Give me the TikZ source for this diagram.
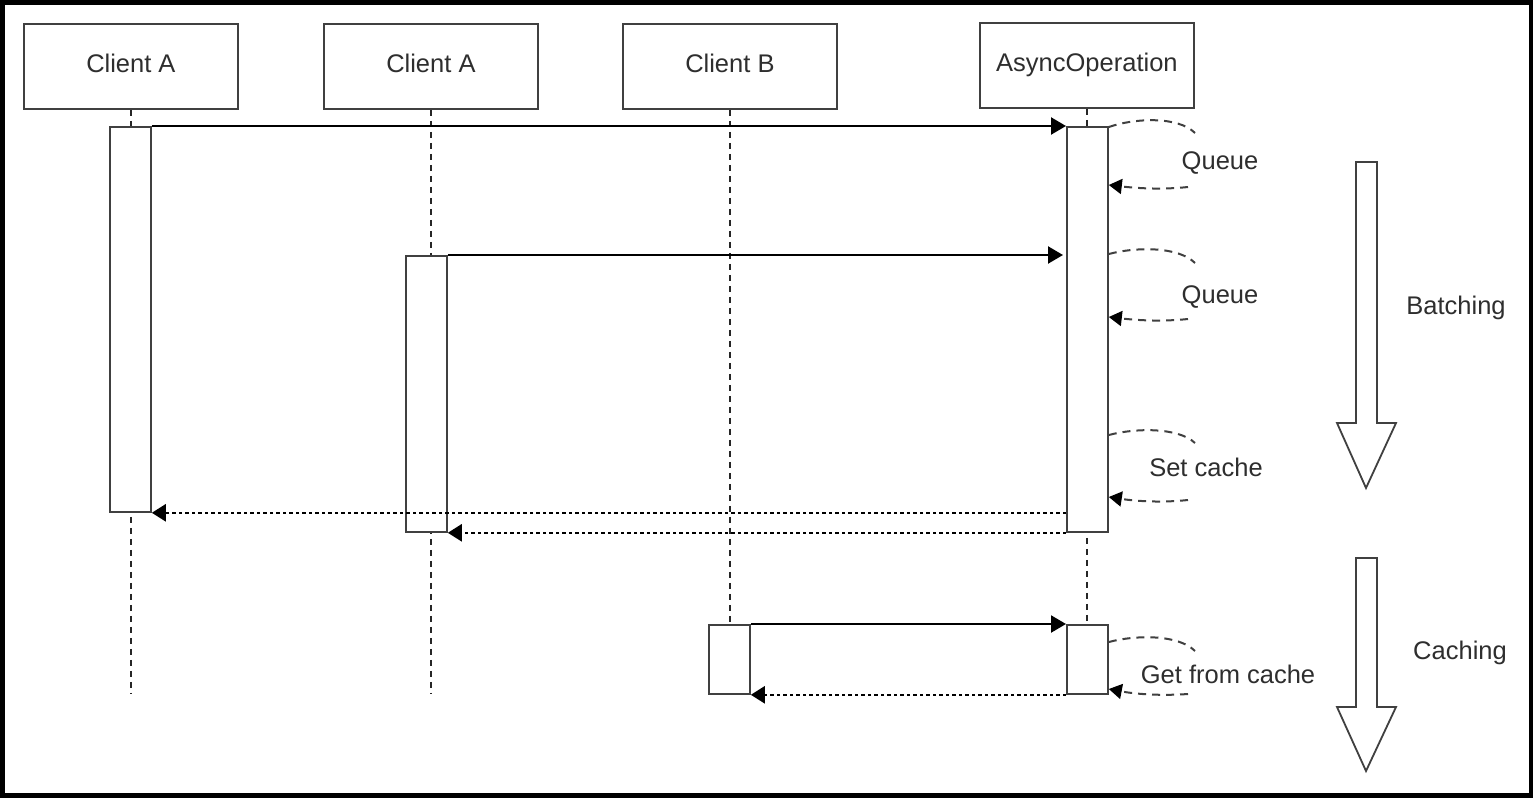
\documentclass[tikz,border=0pt]{standalone}
\usepackage{fontspec}
\setmainfont{Liberation Sans}
\usetikzlibrary{arrows.meta}
\definecolor{boxgray}{HTML}{404040}
\definecolor{txt}{HTML}{2E2E2E}
\begin{document}
\begin{tikzpicture}[x=1pt,y=-1pt,
  hdr/.style={draw=boxgray,line width=1.8pt,minimum width=214pt,minimum height=85pt,inner sep=0pt,anchor=north west,font=\fontsize{25.5}{30}\selectfont,text=txt,execute at begin node=\strut},
  act/.style={draw=boxgray,line width=1.8pt,fill=white,minimum width=41pt,inner sep=0pt,anchor=north west},
  msg/.style={line width=2.2pt,-{Triangle[length=15pt,width=17pt]}},
  ret/.style={line width=2.4pt,dash pattern=on 3.5pt off 3pt,-{Triangle[length=14pt,width=17pt]}},
  life/.style={line width=1.5pt,dash pattern=on 6pt off 5pt,black!85},
  loopd/.style={line width=2pt,dash pattern=on 8pt off 6pt,boxgray},
  looparr/.style={loopd,-{Triangle[length=13pt,width=15pt,color=black]}},
  lbl/.style={font=\fontsize{25.5}{30}\selectfont,text=txt,inner sep=0pt},
  bigarr/.style={draw=boxgray,line width=1.8pt,fill=white,line join=miter}
]
\useasboundingbox (0,0) rectangle (1536,798);
\fill[white] (0,0) rectangle (1536,798);
\draw[line width=4.5pt] (2.5,2.5) rectangle (1531,795.5);

% headers
\node[hdr] (h1) at (23,23) {Client A};
\node[hdr] (h2) at (323,23) {Client A};
\node[hdr] (h3) at (622,23) {Client B};
\node[hdr] (h4) at (979,22) {AsyncOperation};
\coordinate (bot) at (0,693);

% lifelines
\draw[life] (h1.south) -- (h1.south |- bot);
\draw[life] (h2.south) -- (h2.south |- bot);
\draw[life] (h3.south) -- (h3.south |- bot);
\draw[life] (h4.south) -- (h4.south |- bot);

% activations
\node[act,minimum height=385pt] (a1) at (109,126) {};
\node[act,minimum height=276pt] (a2) at (405,255) {};
\node[act,minimum height=69pt] (b1) at (708,624) {};
\node[act,minimum height=405pt] (s1) at (1066,126) {};
\node[act,minimum height=69pt] (s2) at (1066,624) {};

% messages
\draw[msg] (a1.north east) -- (s1.north west);
\draw[msg] (a2.north east) -- ([xshift=-3pt]s1.west |- a2.north);
\draw[msg] (b1.north east) -- (s2.north west);
\draw[ret] (s1.west |- a1.south) -- (a1.south east);
\draw[ret] (s1.south west) -- (a2.south east);
\draw[ret] (s2.south west) -- (b1.south east);

% self loops
\coordinate (q1a) at (1195,133); \coordinate (q1b) at (1188,187);
\draw[loopd] (s1.east |- 0,127) .. controls (1135,118) and (1178,116) .. (q1a);
\draw[looparr] (q1b) .. controls (1160,190) and (1135,188) .. (s1.east |- 0,185);
\node[lbl] (lq1) at (1220,163) {Queue};

\coordinate (q2a) at (1195,263); \coordinate (q2b) at (1188,319);
\draw[loopd] (s1.east |- 0,254) .. controls (1135,247) and (1178,246) .. (q2a);
\draw[looparr] (q2b) .. controls (1160,322) and (1135,320) .. (s1.east |- 0,317);
\node[lbl] (lq2) at (1220,297) {Queue};

\coordinate (q3a) at (1195,443); \coordinate (q3b) at (1188,500);
\draw[loopd] (s1.east |- 0,435) .. controls (1135,428) and (1178,427) .. (q3a);
\draw[looparr] (q3b) .. controls (1160,503) and (1135,501) .. (s1.east |- 0,497);
\node[lbl] (lq3) at (1206,467) {Set cache};

\coordinate (q4a) at (1195,651); \coordinate (q4b) at (1188,694);
\draw[loopd] (s2.east |- 0,642) .. controls (1135,635) and (1178,634) .. (q4a);
\draw[looparr] (q4b) .. controls (1160,696) and (1135,694) .. (s2.east |- 0,689);
\node[lbl] (lq4) at (1228,674) {Get from cache};

% big hollow arrows
\draw[bigarr] (1356,162) -- (1377,162) -- (1377,423) -- (1396,423) -- (1366,488) -- (1337,423) -- (1356,423) -- cycle;
\node[lbl] (batch) at (1456,308) {Batching};
\draw[bigarr] (1356,558) -- (1377,558) -- (1377,707) -- (1396,707) -- (1366,771) -- (1337,707) -- (1356,707) -- cycle;
\node[lbl] (cach) at (1460,653) {Caching};
\end{tikzpicture}
\end{document}
